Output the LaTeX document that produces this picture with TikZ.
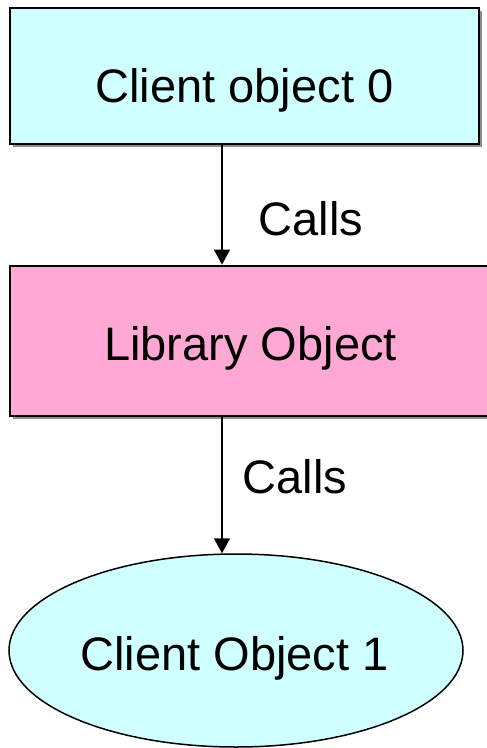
\documentclass[tikz,border=0pt]{standalone}
\usepackage{fontspec}
\setmainfont{Liberation Sans}
\usetikzlibrary{arrows.meta,shapes.geometric}
\definecolor{lcyan}{HTML}{D0FFFF}
\definecolor{lpink}{HTML}{FFA8D4}
\tikzset{
  boxnode/.style={draw=black, line width=2.8pt, rectangle, inner sep=0pt},
  ovalnode/.style={draw=black, line width=1.5pt, ellipse, inner sep=0pt, fill=lcyan},
  lbl/.style={font=\fontsize{47}{56}\selectfont, anchor=base, inner sep=0pt},
  arr/.style={line width=1.6pt, -{Triangle[width=16pt,length=15pt]}},
  shadowbox/.style={fill=black!45, draw=none}
}
\begin{document}
\begin{tikzpicture}[x=1pt,y=-1pt]
\useasboundingbox (0,0) rectangle (487,748);
\clip (0,0) rectangle (487,748);
\fill[white] (0,0) rectangle (487,748);
% shadows
\fill[shadowbox] (12.5,10.5) rectangle (481.5,146.5);
\fill[shadowbox] (12.5,268.5) rectangle (495,418.5);
% boxes
\node[boxnode, fill=lcyan, minimum width=469pt, minimum height=136pt] (c0) at (244.5,76) {};
\node[boxnode, fill=lpink, minimum width=484pt, minimum height=150pt] (lib) at (252,341) {};
\node[ovalnode, minimum width=454pt, minimum height=193pt] (c1) at (236,650.5) {};
% texts
\node[lbl] (t0) at (244.5,102) {Client object 0};
\node[lbl] (t1) at (250.5,360) {Library Object};
\node[lbl] (t2) at (234.5,670) {Client Object 1};
% arrows
\coordinate (ax) at (222,0);
\draw[arr] (c0.south -| ax) -- (lib.north -| ax) node[lbl, pos=0.5, anchor=base west, xshift=36pt, yshift=-30pt] (k0) {Calls};
\draw[arr] (lib.south -| ax) -- (c1.north -| ax) node[lbl, pos=0.5, anchor=base west, xshift=20pt, yshift=-8pt] (k1) {Calls};
\end{tikzpicture}
\end{document}
